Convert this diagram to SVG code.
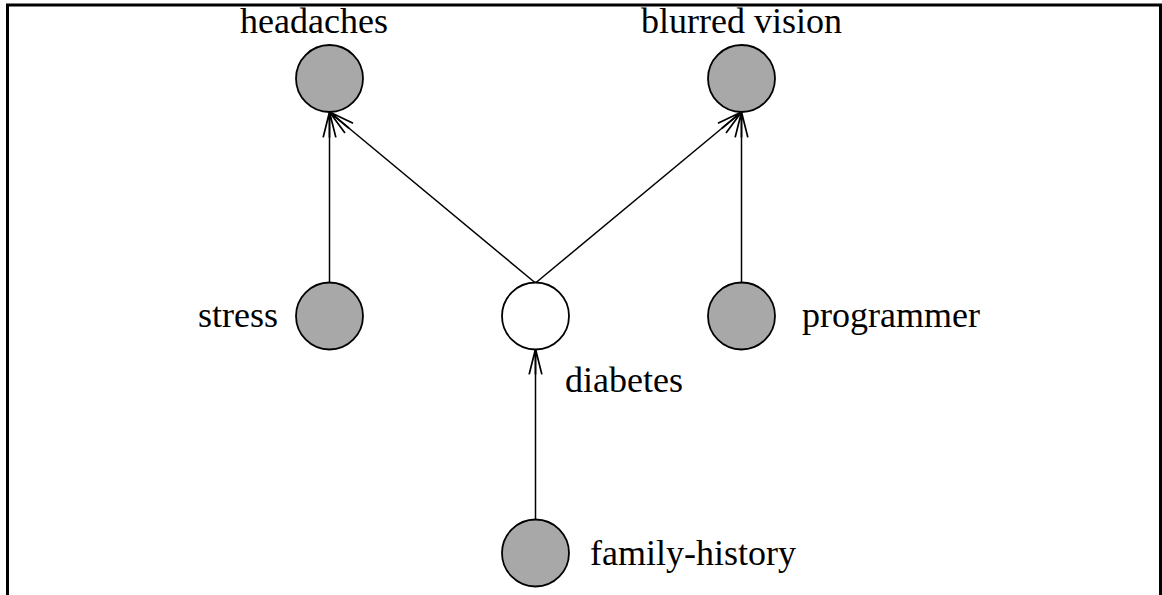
<svg xmlns="http://www.w3.org/2000/svg" width="1162" height="595" viewBox="0 0 1162 595">
  <defs>
    <style>
      .node circle { stroke: #000; stroke-width: 1.8; }
      .obs { fill: #a8a8a8; }
      .hid { fill: #fff; }
      .label { font-family: "Liberation Serif", "Times New Roman", serif; font-size: 36px; fill: #000; }
      .edge { stroke: #000; stroke-width: 1.5; fill: none; marker-end: url(#open); }
    </style>
    <marker id="open" markerUnits="userSpaceOnUse" markerWidth="30" markerHeight="20" viewBox="-24 -8 26 16" refX="0" refY="0" orient="auto">
      <path d="M -22 -5.5 L 0 0 L -22 5.5 M -22 0 L 0 0" fill="none" stroke="#000" stroke-width="1.5"/>
    </marker>
  </defs>

  <rect width="1162" height="595" fill="#fff"/>
  <!-- frame, open at the bottom -->
  <path d="M 7.5 600 L 7.5 5 L 1160.5 5 L 1160.5 600" fill="none" stroke="#000" stroke-width="3"/>

  <g id="connectors">
    <line class="edge" x1="329.5" y1="283" x2="329.5" y2="112"/>
    <line class="edge" x1="535.5" y1="283" x2="329.5" y2="112"/>
    <line class="edge" x1="535.5" y1="283" x2="741.5" y2="112"/>
    <line class="edge" x1="741.5" y1="283" x2="741.5" y2="112"/>
    <line class="edge" x1="535.5" y1="520" x2="535.5" y2="349"/>
  </g>

  <g id="headaches" class="node">
    <circle class="obs" cx="329.5" cy="78.5" r="33.5"/>
    <text class="label" x="240" y="33">headaches</text>
  </g>
  <g id="blurred-vision" class="node">
    <circle class="obs" cx="741.5" cy="78.5" r="33.5"/>
    <text class="label" x="641" y="33">blurred vision</text>
  </g>
  <g id="stress" class="node">
    <circle class="obs" cx="329.5" cy="316" r="33.5"/>
    <text class="label" x="198" y="327">stress</text>
  </g>
  <g id="diabetes" class="node">
    <circle class="hid" cx="535.5" cy="316" r="33.5"/>
    <text class="label" x="565" y="392">diabetes</text>
  </g>
  <g id="programmer" class="node">
    <circle class="obs" cx="741.5" cy="316" r="33.5"/>
    <text class="label" x="802" y="327">programmer</text>
  </g>
  <g id="family-history" class="node">
    <circle class="obs" cx="535.5" cy="553" r="33.5"/>
    <text class="label" x="590" y="565">family-history</text>
  </g>
</svg>
